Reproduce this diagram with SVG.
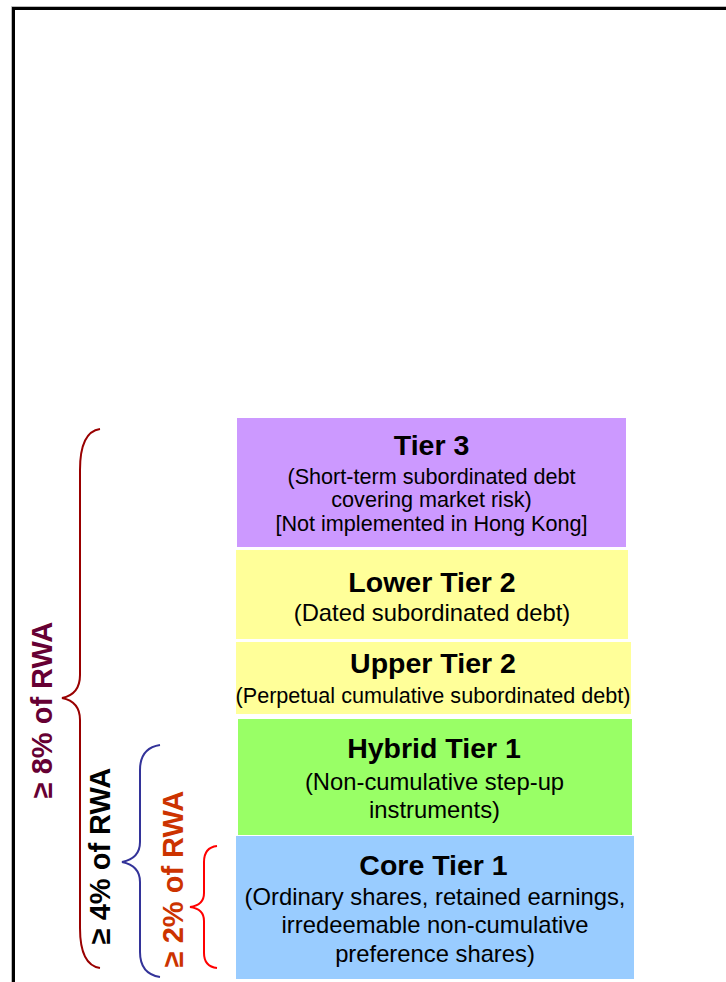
<svg xmlns="http://www.w3.org/2000/svg" width="726" height="982" viewBox="0 0 726 982">
<style>
.t{font-family:"Liberation Sans",Arial,sans-serif;font-weight:bold;font-size:28.5px;fill:#000;text-anchor:middle}
.s{font-family:"Liberation Sans",Arial,sans-serif;font-size:23.8px;fill:#000;text-anchor:middle}
.s2{font-family:"Liberation Sans",Arial,sans-serif;font-size:21.6px;fill:#000;text-anchor:middle}
.r{font-family:"Liberation Sans",Arial,sans-serif;font-weight:bold;font-size:29px;text-anchor:middle}
.br{fill:none;stroke-width:2}
</style>
<rect width="726" height="982" fill="#fff"/>
<g id="frame">
<path d="M11.5,982 V6.5 H726" fill="none" stroke="#bbb" stroke-width="1"/>
<path d="M13.5,982 V8.5 H726" fill="none" stroke="#000" stroke-width="3"/>
</g>
<g id="tier3">
<rect x="237" y="418" width="389" height="129" fill="#CC99FF"/>
<text class="t" x="431.5" y="455">Tier 3</text>
<text class="s2" x="431.5" y="484">(Short-term subordinated debt</text>
<text class="s2" x="431.5" y="507">covering market risk)</text>
<text class="s2" x="431.5" y="531">[Not implemented in Hong Kong]</text>
</g>
<g id="lowerTier2">
<rect x="236" y="550" width="392" height="89" fill="#FFFF99"/>
<text class="t" x="432" y="592">Lower Tier 2</text>
<text class="s" x="432" y="621">(Dated subordinated debt)</text>
</g>
<g id="upperTier2">
<rect x="236" y="642" width="395" height="72" fill="#FFFF99"/>
<text class="t" x="433" y="673">Upper Tier 2</text>
<text class="s2" x="433" y="703">(Perpetual cumulative subordinated debt)</text>
</g>
<g id="hybridTier1">
<rect x="238" y="719" width="394" height="116" fill="#99FF66"/>
<text class="t" x="434" y="758">Hybrid Tier 1</text>
<text class="s" x="434.5" y="790">(Non-cumulative step-up</text>
<text class="s" x="434.5" y="818">instruments)</text>
</g>
<g id="coreTier1">
<rect x="236" y="836" width="398" height="143" fill="#99CCFF"/>
<text class="t" x="433.5" y="875">Core Tier 1</text>
<text class="s" x="435" y="905">(Ordinary shares, retained earnings,</text>
<text class="s" x="435" y="933">irredeemable non-cumulative</text>
<text class="s" x="435" y="962">preference shares)</text>
</g>
<g id="connectors">
<path class="br" stroke="#990000" d="M100,429 C86,431 80,445 80,470 L80,675 C80,690 72,696 62,698 C72,700 80,706 80,720 L80,928 C80,952 86,966 100,968"/>
<path class="br" stroke="#333399" d="M160,745 C147,747 140,755 140,770 L140,842 C140,855 132,860 122,862 C132,864 140,869 140,882 L140,952 C140,967 147,975 160,977"/>
<path class="br" stroke="#FF0000" d="M217,846 C208,847 204,852 204,862 L204,893 C204,902 198,906 190,907 C198,908 204,912 204,921 L204,953 C204,962 208,967 217,968"/>
</g>
<g id="label8">
<text class="r" fill="#660033" transform="translate(52,710) rotate(-90)">≥ 8% of RWA</text>
</g>
<g id="label4">
<text class="r" fill="#000" transform="translate(110,856) rotate(-90)">≥ 4% of RWA</text>
</g>
<g id="label2">
<text class="r" fill="#CC3300" transform="translate(183,879) rotate(-90)">≥ 2% of RWA</text>
</g>
</svg>
